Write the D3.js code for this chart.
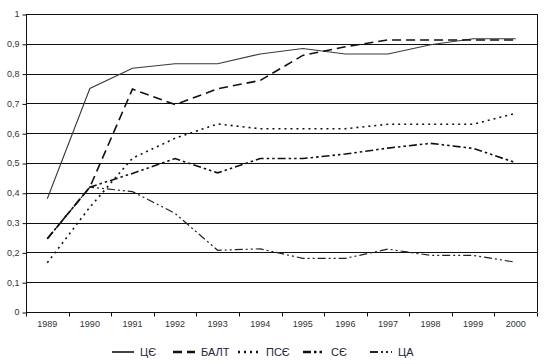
<!DOCTYPE html>
<html>
<head>
<meta charset="utf-8">
<script src="https://cdn.jsdelivr.net/npm/d3@7"></script>
<style>
  body { margin: 0; background: #fff; }
  text { font-family: "Liberation Sans", Arial, sans-serif; }
</style>
</head>
<body>
<div id="vis"></div>
<script type="text/javascript">

    const years = ["1989", "1990", "1991", "1992", "1993", "1994", "1995", "1996", "1997", "1998", "1999", "2000"];
    const yTicks = [0, 0.1, 0.2, 0.3, 0.4, 0.5, 0.6, 0.7, 0.8, 0.9, 1];

    const ce   = [0.38, 0.75, 0.818, 0.833, 0.833, 0.866, 0.884, 0.866, 0.866, 0.897, 0.917, 0.917];
    const balt = [0.246, 0.419, 0.748, 0.696, 0.749, 0.777, 0.861, 0.89, 0.913, 0.913, 0.913, 0.913];
    const pse  = [0.165, 0.352, 0.516, 0.583, 0.631, 0.615, 0.615, 0.615, 0.63, 0.63, 0.63, 0.667];
    const se   = [0.246, 0.419, 0.465, 0.515, 0.467, 0.515, 0.515, 0.53, 0.55, 0.566, 0.549, 0.501];
    const ca   = [0.246, 0.419, 0.404, 0.331, 0.207, 0.212, 0.18, 0.18, 0.211, 0.19, 0.19, 0.167];

    const series = [
        {name: "ЦЄ",   values: ce,   color: "#3a3a3a", width: 1.1, dash: null},
        {name: "БАЛТ", values: balt, color: "#111",    width: 1.6, dash: "9,5"},
        {name: "ПСЄ",  values: pse,  color: "#111",    width: 1.6, dash: "2,4"},
        {name: "СЄ",   values: se,   color: "#111",    width: 1.6, dash: "8,3,2.5,3,2.5,3"},
        {name: "ЦА",   values: ca,   color: "#222",    width: 1.2, dash: "8,3,2,3,2,3"}
    ];

    const W = 553, H = 364;
    const svg = d3.select("#vis").append("svg").attr("width", W).attr("height", H);

    const x = d3.scaleBand().domain(years).range([26, 537]).padding(0);
    const y = d3.scaleLinear().domain([0, 1]).range([312, 14]);
    const cx = d => x(d) + x.bandwidth() / 2;

    // grid
    svg.append("g").selectAll("line")
        .data(yTicks.filter(d => d > 0))
        .enter().append("line")
        .attr("x1", 26).attr("x2", 537)
        .attr("y1", d => Math.round(y(d)) + 0.5).attr("y2", d => Math.round(y(d)) + 0.5)
        .style("stroke", "#111").style("stroke-width", 1);

    svg.append("line")
        .attr("x1", 537.5).attr("x2", 537.5).attr("y1", y(1)).attr("y2", y(0))
        .style("stroke", "#111");

    // y axis
    const yAxis = svg.append("g").attr("transform", "translate(26.5,0)")
        .call(d3.axisLeft(y).tickValues(yTicks).tickSize(4).tickPadding(3)
            .tickFormat(d => d === 0 ? "0" : d === 1 ? "1" : d3.format(".1f")(d).replace(".", ",")));
    yAxis.select(".domain").attr("d", `M0,${y(1)}V${y(0)}`).style("stroke", "#111");
    yAxis.selectAll(".tick line").style("stroke", "#111").attr("transform", "translate(0,0.5)");
    yAxis.selectAll("text").style("font-size", "9px").style("fill", "#333");

    // x axis
    const xAxis = svg.append("g").attr("transform", "translate(0,312.5)")
        .call(d3.axisBottom(x).tickSize(0).tickPadding(8));
    xAxis.select(".domain").attr("d", "M26,0H537").style("stroke", "#111");
    xAxis.selectAll("text").style("font-size", "9px").style("fill", "#333");
    xAxis.append("g").selectAll("line")
        .data(years.concat(["end"]))
        .enter().append("line")
        .attr("x1", (d, i) => Math.round(26 + i * x.bandwidth()) + 0.5)
        .attr("x2", (d, i) => Math.round(26 + i * x.bandwidth()) + 0.5)
        .attr("y1", 0).attr("y2", 4)
        .style("stroke", "#111");

    // lines
    const line = d3.line().x((d, i) => cx(years[i])).y(d => y(d));
    const drawOrder = ["СЄ", "ЦА", "ПСЄ", "ЦЄ", "БАЛТ"];
    svg.append("g").selectAll("path")
        .data(drawOrder.map(n => series.find(s => s.name === n)))
        .enter().append("path")
        .attr("d", d => line(d.values))
        .style("fill", "none")
        .style("stroke", d => d.color)
        .style("stroke-width", d => d.width)
        .style("stroke-dasharray", d => d.dash);

    // legend
    const legendX = [112, 173, 238, 303, 370];
    const lg = svg.append("g").selectAll("g")
        .data(series)
        .enter().append("g")
        .attr("transform", (d, i) => `translate(${legendX[i]},352)`);
    lg.append("line")
        .attr("x1", 0).attr("x2", 22).attr("y1", 0).attr("y2", 0)
        .style("stroke", d => d.color)
        .style("stroke-width", d => d.width + 0.8)
        .style("stroke-dasharray", d => d.dash);
    lg.append("text")
        .attr("x", 28).attr("y", 4)
        .style("font-size", "11px").style("fill", "#1c2438")
        .text(d => d.name);

</script>
</body>
</html>
